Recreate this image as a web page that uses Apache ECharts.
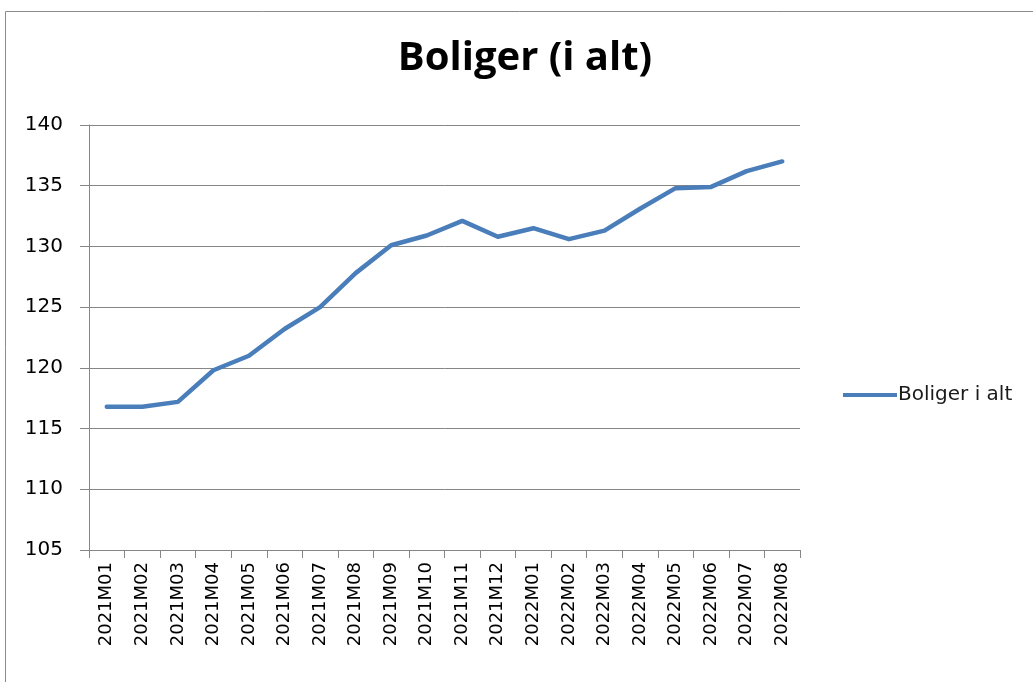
<!DOCTYPE html>
<html lang="en">
<head>
    <meta charset="UTF-8">
    <title>Boliger (i alt)</title>
    <style>
        html,body{
            width: 100%;
            height: 100%;
            margin: 0;
            padding: 0;
            background: #fff;
        }
        #chart{
            width: 1033px;
            height: 682px;
        }
    </style>
</head>
<body>
    <div id="chart"></div>
    <script src="https://cdn.jsdelivr.net/npm/echarts@6/dist/echarts.min.js"></script>
    <script>
        var months = ['2021M01','2021M02','2021M03','2021M04','2021M05','2021M06','2021M07','2021M08','2021M09','2021M10',
                      '2021M11','2021M12','2022M01','2022M02','2022M03','2022M04','2022M05','2022M06','2022M07','2022M08'];
        var boligerIAlt = [116.8, 116.8, 117.2, 119.8, 121.0, 123.2, 125.0, 127.8, 130.1, 130.9,
                           132.1, 130.8, 131.5, 130.6, 131.3, 133.1, 134.8, 134.9, 136.2, 137.0];
        var seriesName = 'Boliger i alt';
        var titleText = 'Boliger (i alt)';

        var labelFont = '"DejaVu Sans", sans-serif';
        var titleFont = '"Open Sans", "Noto Sans", sans-serif';
        var myChart = echarts.init(document.getElementById('chart'));
        var option = {
            backgroundColor: '#fff',
            animation: false,
            title: {
                text: titleText,
                left: 520,
                top: 34,
                textAlign: 'center',
                textStyle: {
                    fontFamily: titleFont,
                    fontSize: 40,
                    fontWeight: 'bold',
                    color: '#000'
                }
            },
            // ramme rundt om diagrammet
            graphic: [{
                type: 'rect',
                shape: { x: 5.5, y: 11.5, width: 1100, height: 700 },
                style: { fill: 'none', stroke: '#8c8c8c', lineWidth: 1 },
                silent: true
            }],
            legend: {
                orient: 'vertical',
                left: 838,
                top: 380,
                itemWidth: 54,
                itemHeight: 4,
                itemGap: 0,
                icon: 'rect',
                textStyle: {
                    fontFamily: labelFont,
                    fontSize: 20,
                    color: '#1a1a1a',
                    padding: [0, 0, 0, -4]
                },
                data: [seriesName]
            },
            grid: {
                left: 89,
                right: 233,
                top: 125,
                bottom: 132,
                containLabel: false
            },
            xAxis: {
                type: 'category',
                data: months,
                boundaryGap: true,
                axisLine: { lineStyle: { color: '#868686', width: 1 } },
                axisTick: { show: true, length: 8, interval: 0, lineStyle: { color: '#868686' } },
                axisLabel: {
                    rotate: 90,
                    interval: 0,
                    margin: 12,
                    fontFamily: labelFont,
                    fontSize: 18,
                    color: '#000'
                },
                splitLine: { show: false }
            },
            yAxis: {
                type: 'value',
                min: 105,
                max: 140,
                interval: 5,
                axisLine: { show: true, lineStyle: { color: '#868686', width: 1 } },
                axisTick: { show: true, length: 9, lineStyle: { color: '#868686' } },
                axisLabel: {
                    margin: 26,
                    fontFamily: labelFont,
                    fontSize: 20,
                    color: '#000'
                },
                splitLine: { show: true, lineStyle: { color: '#868686', width: 1 } }
            },
            series: [{
                name: seriesName,
                type: 'line',
                data: boligerIAlt,
                symbol: 'none',
                lineStyle: { color: '#4a7ebb', width: 4.5, cap: 'round', join: 'round' },
                itemStyle: { color: '#4a7ebb' }
            }]
        };
        myChart.setOption(option);
    </script>
</body>
</html>
